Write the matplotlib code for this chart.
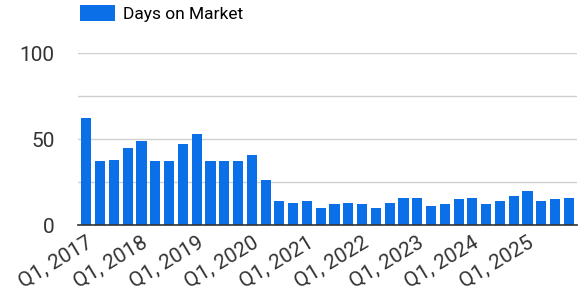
import numpy as np
import matplotlib.pyplot as plt

plt.rcParams['font.family'] = ['Roboto', 'DejaVu Sans']

years = list(range(2017, 2026))
quarters = [f"Q{q}, {y}" for y in years for q in range(1, 5)]
days = [62, 37, 38, 45, 49, 37, 37, 47, 53, 37, 37, 37,
        41, 26, 14, 13, 14, 10, 12, 13, 12, 10, 13, 16,
        16, 11, 12, 15, 16, 12, 14, 17, 20, 14, 15, 16]
tick_labels = [f"Q1, {y}" for y in years]

fig = plt.figure(figsize=(5.83, 3.03), dpi=100)
ax = fig.add_axes([0.134, 0.257, 0.856, 0.568])

x = np.arange(len(days))
ax.bar(x, days, width=0.74, color='#0B6FE8', label='Days on Market', zorder=3)

ax.set_ylim(0, 100)
ax.set_xlim(-0.6, len(days) - 0.4)
ax.set_yticks([0, 50, 100])
ax.set_yticks([25, 75], minor=True)
ax.yaxis.grid(True, which='both', color='#d0d0d0', linewidth=1, zorder=0)
ax.tick_params(axis='y', which='both', length=0, labelsize=15, colors='#333333', pad=17)
ax.set_xticks(x[::4])
ax.set_xticklabels(tick_labels, rotation=31, ha='right', rotation_mode='anchor',
                   fontsize=15, color='#333333')
ax.tick_params(axis='x', length=0, pad=6)
for s in ['top', 'right', 'left']:
    ax.spines[s].set_visible(False)
ax.spines['bottom'].set_color('#333333')
ax.spines['bottom'].set_linewidth(1.2)
ax.spines['bottom'].set_zorder(4)

fig.legend(loc='upper left', bbox_to_anchor=(0.11, 1.035), frameon=False,
           fontsize=12.5, handlelength=2.05, handleheight=1.0, handletextpad=0.45)

fig.savefig('out.png', dpi=100)
